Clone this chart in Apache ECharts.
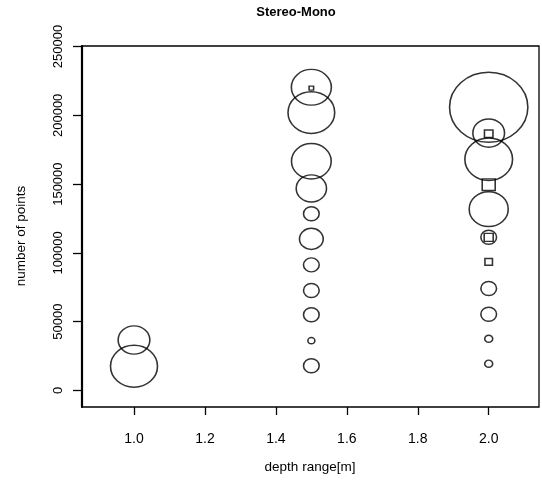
<!DOCTYPE html>
<html>
<head>
<meta charset="utf-8">
<script src="https://cdn.jsdelivr.net/npm/echarts@6/dist/echarts.min.js"></script>
<style>
html,body{margin:0;padding:0;background:#fff;}
#chart{width:542px;height:486px;}
</style>
</head>
<body>
<div id="chart"></div>
<script>
// circles: x (depth range), y (number of points), relative diameter
const circleX = [1.0, 1.0,
  1.5, 1.5, 1.5, 1.5, 1.5, 1.5, 1.5, 1.5, 1.5, 1.5, 1.5,
  2.0, 2.0, 2.0, 2.0, 2.0, 2.0, 2.0, 2.0, 2.0];
const circleY = [36700, 17600,
  220400, 202000, 166600, 146900, 128500, 110200, 91300, 72700, 55000, 36200, 18000,
  205900, 187100, 168100, 131800, 111400, 74100, 55400, 37600, 19500];
const circleD = [31.7, 47,
  40, 46.7, 39.7, 30.3, 15.7, 23.7, 15.7, 15.7, 15.7, 7, 15.7,
  78.3, 31.7, 47.7, 39, 15.7, 15.7, 15.7, 8, 8];
// squares
const squareX = [1.5, 2.0, 2.0, 2.0, 2.0];
const squareY = [219800, 186600, 149600, 111300, 93500];
const squareD = [4.5, 8.5, 13, 9, 7.5];

const xTicks = [1.0, 1.2, 1.4, 1.6, 1.8, 2.0];
const yTicks = [0, 50000, 100000, 150000, 200000, 250000];

const FONT = "'Liberation Sans', Arial, Helvetica, sans-serif";
const ASPECT = 1.12;

const circleData = circleX.map((x, i) => [x, circleY[i], circleD[i]]);
const squareData = squareX.map((x, i) => [x, squareY[i], squareD[i]]);

const chart = echarts.init(document.getElementById('chart'), null, {renderer: 'canvas'});
const sizeFn = v => [v[2], v[2] / ASPECT];
const markStyle = {color: 'rgba(0,0,0,0)', borderColor: '#000', borderWidth: 1.5};

chart.setOption({
  animation: false,
  backgroundColor: '#fff',
  grid: {left: 82, right: 3, top: 46, bottom: 79, show: true, borderColor: '#000', borderWidth: 1.3, backgroundColor: 'transparent'},
  xAxis: {
    type: 'value', min: 0.8534, max: 2.1418,
    splitLine: {show: false},
    axisLine: {show: false, onZero: false},
    axisTick: {show: true, customValues: xTicks, length: 8, lineStyle: {color: '#000', width: 1.3}},
    axisLabel: {customValues: xTicks, formatter: v => v.toFixed(1), color: '#000', fontFamily: FONT, fontSize: 14, margin: 25}
  },
  yAxis: {
    type: 'value', min: -12000, max: 250400,
    splitLine: {show: false},
    axisLine: {show: true, onZero: false, lineStyle: {color: '#000', width: 2.2}},
    axisTick: {show: true, customValues: yTicks, length: 9, lineStyle: {color: '#000', width: 1.3}},
    axisLabel: {customValues: yTicks, rotate: 90, formatter: v => String(v), color: '#000', fontFamily: FONT, fontSize: 13, margin: 17}
  },
  graphic: [
    {type: 'text', x: 296, y: 12, style: {text: 'Stereo-Mono', font: "bold 13px " + FONT, fill: '#000', textAlign: 'center', textVerticalAlign: 'middle'}},
    {type: 'text', x: 310, y: 467, style: {text: 'depth range[m]', font: "13.5px " + FONT, fill: '#000', textAlign: 'center', textVerticalAlign: 'middle'}},
    {type: 'text', x: 21, y: 236, rotation: Math.PI / 2, style: {text: 'number of points', font: "13.5px " + FONT, fill: '#000', textAlign: 'center', textVerticalAlign: 'middle'}}
  ],
  series: [
    {type: 'scatter', symbol: 'circle', data: circleData, symbolSize: sizeFn, itemStyle: markStyle, emphasis: {disabled: true}},
    {type: 'scatter', symbol: 'rect', data: squareData, symbolSize: sizeFn, itemStyle: markStyle, emphasis: {disabled: true}}
  ]
});
</script>
</body>
</html>
